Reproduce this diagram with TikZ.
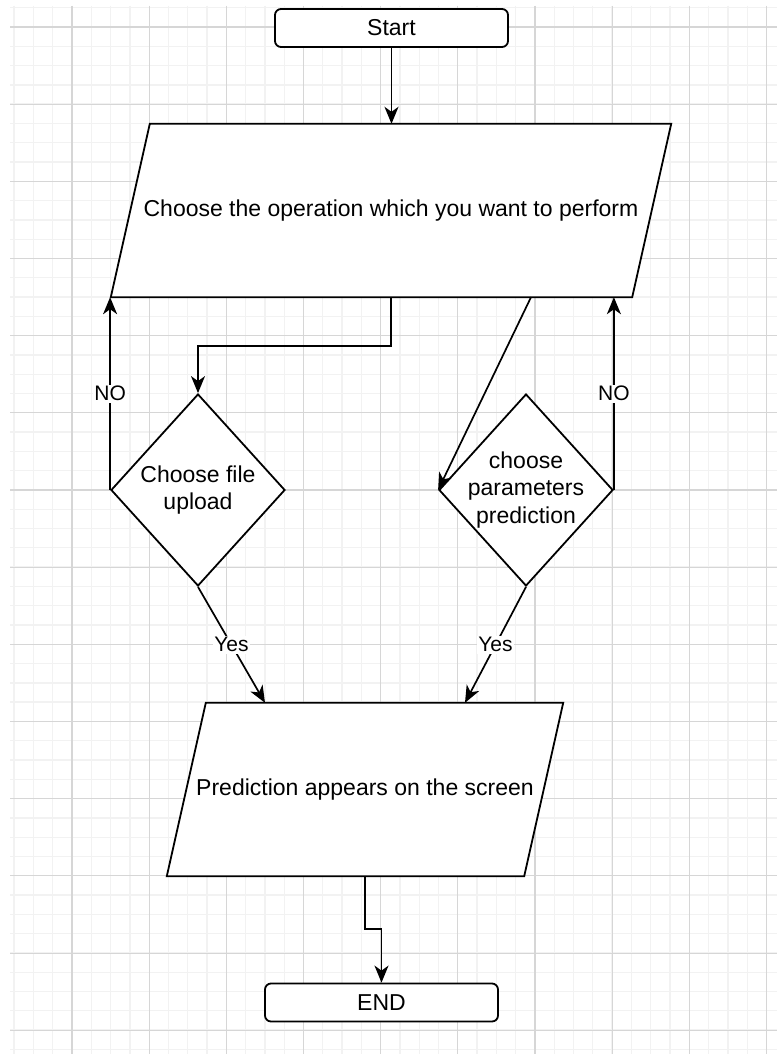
\documentclass[tikz,border=0pt]{standalone}
\usepackage{fontspec}
\setmainfont{Liberation Sans}
\usetikzlibrary{arrows.meta,shapes.geometric,calc}
\pgfdeclarelayer{gridl}
\pgfdeclarelayer{shp}
\pgfsetlayers{gridl,shp,main}
\begin{document}
\begin{tikzpicture}[x=1pt,y=-1pt,
  arr/.style={-{Stealth[length=17pt,width=14pt,inset=5pt]}, line width=1.7pt},
  txt/.style={font=\fontsize{23}{27.5}\selectfont, align=center},
  term/.style={txt, draw, line width=1.8pt, rounded corners=6pt, minimum width=233pt, minimum height=38pt, inner sep=0pt, fill=white},
  iobox/.style={txt, inner sep=0pt},
  dec/.style={draw, line width=1.8pt, diamond, minimum width=174pt, minimum height=192pt, inner sep=0pt, fill=white},
  lbl/.style={fill=white, inner sep=1.5pt, font=\fontsize{21}{24}\selectfont},
  minorg/.style={line width=1.3pt, draw=black!5},
  majorg/.style={line width=1.1pt, draw=black!16},
  para/.style={fill=white, line width=1.8pt}
]
\useasboundingbox (0,0) rectangle (777,1054);
\begin{pgfonlayer}{gridl}
  \fill[white] (0,0) rectangle (777,1054);
  \foreach \i in {0,...,39} {
    \pgfmathsetmacro{\xx}{14.13+\i*19.29}
    \draw[minorg] (\xx,6) -- (\xx,1054);
  }
  \foreach \j in {0,...,54} {
    \pgfmathsetmacro{\yy}{7.7+\j*19.29}
    \draw[minorg] (10,\yy) -- (777,\yy);
  }
  \foreach \i in {0,...,9} {
    \pgfmathsetmacro{\xx}{72+\i*77.17}
    \draw[majorg] (\xx,6) -- (\xx,1054);
  }
  \foreach \j in {0,...,13} {
    \pgfmathsetmacro{\yy}{27+\j*77.17}
    \draw[majorg] (10,\yy) -- (777,\yy);
  }
\end{pgfonlayer}

% nodes
\node[term] (start) at (391.5,28) {Start};
\node[iobox, minimum width=560pt, minimum height=173pt] (op) at (391,210.5) {Choose the operation which you want to perform};
\node[dec, label={[txt]center:Choose file\\upload}] (d1) at (198,490) {};
\node[dec, label={[txt]center:choose\\parameters\\prediction}] (d2) at (526,490) {};
\node[iobox, minimum width=396pt, minimum height=173pt] (pred) at (365,789.5) {Prediction appears on the screen};
\node[term] (end) at (381.5,1002.5) {END};

\begin{pgfonlayer}{shp}
  \draw[para] (op.south west) -- ($(op.north west)+(39,0)$) -- (op.north east) -- ($(op.south east)+(-39,0)$) -- cycle;
  \draw[para] (pred.south west) -- ($(pred.north west)+(39,0)$) -- (pred.north east) -- ($(pred.south east)+(-39,0)$) -- cycle;
\end{pgfonlayer}

\coordinate (opr) at ($(op.south)+(140,0)$);
\coordinate (pl) at ($(pred.north)+(-100,0)$);
\coordinate (pr) at ($(pred.north)+(100,0)$);

% connectors
\draw[arr] (start.south) -- (start.south |- op.north);
\draw[arr] (op.south) -- ++(0,49) -| (d1.north);
\draw[arr] (opr) -- (d2.west);
\draw[arr] (d1.west) -- (d1.west |- op.south) node[lbl, midway] {NO};
\draw[arr] (d2.east) -- (d2.east |- op.south) node[lbl, midway] {NO};
\draw[arr] (d1.south) -- (pl) node[lbl, midway] {Yes};
\draw[arr] (d2.south) -- (pr) node[lbl, midway] {Yes};
\draw[arr] (pred.south) -- ++(0,53) -| (end.north);
\end{tikzpicture}
\end{document}
